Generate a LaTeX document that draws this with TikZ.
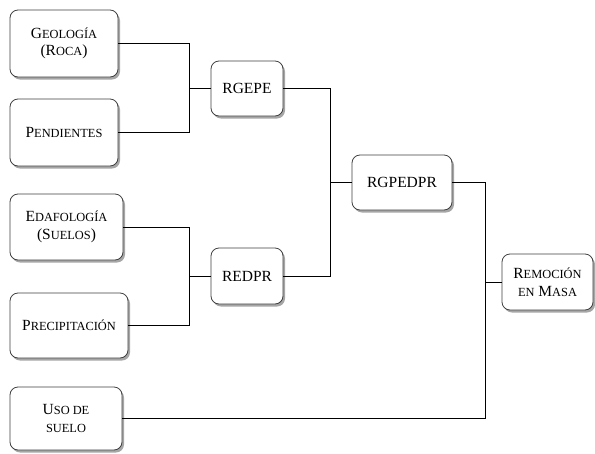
\documentclass[tikz,border=0pt]{standalone}
\usepackage{fontspec}
\setmainfont{Liberation Serif}
\usetikzlibrary{shadows}
\newcommand\sm[1]{{\fontsize{12.4}{17.5}\selectfont #1}}
\begin{document}
\begin{tikzpicture}[x=1pt,y=-1pt,
  box/.style={draw=black!75, line width=0.8pt, rounded corners=8pt, fill=white,
    align=center, inner sep=0pt, font=\fontsize{15.5}{17.5}\selectfont,
    drop shadow={shadow xshift=2pt, shadow yshift=-2.5pt, opacity=0.35, fill=black}},
  wire/.style={draw=black, line width=0.9pt}]
\useasboundingbox[fill=white] (0,0) rectangle (595,453);
\node[box, minimum width=108pt, minimum height=67pt] (geo) at (64,43.5) {G\sm{EOLOGÍA}\\(R\sm{OCA})};
\node[box, minimum width=108pt, minimum height=67pt] (pen) at (64,132.5) {P\sm{ENDIENTES}};
\node[box, minimum width=113pt, minimum height=66pt] (eda) at (66.5,227) {E\sm{DAFOLOGÍA}\\(S\sm{UELOS})};
\node[box, minimum width=118pt, minimum height=65pt] (prec) at (69,325.5) {P\sm{RECIPITACIÓN}};
\node[box, minimum width=112pt, minimum height=63pt] (uso) at (66,418.5) {U\sm{SO DE}\\\sm{SUELO}};
\node[box, minimum width=72pt, minimum height=55pt] (rgepe) at (247,88.5) {RGEPE};
\node[box, minimum width=72pt, minimum height=56pt] (redpr) at (247,276) {REDPR};
\node[box, minimum width=100pt, minimum height=55pt] (rgpedpr) at (402,182.5) {RGPEDPR};
\node[box, minimum width=91pt, minimum height=56pt] (rem) at (547.5,282) {R\sm{EMOCIÓN}\\\sm{EN} M\sm{ASA}};
\coordinate (j1) at (189,88.5);
\coordinate (j2) at (189,276);
\coordinate (j3) at (330,182.5);
\coordinate (j4) at (485,282);
\draw[wire] (geo.east) -| (j1);
\draw[wire] (pen.east) -| (j1);
\draw[wire] (j1) -- (rgepe.west);
\draw[wire] (eda.east) -| (j2);
\draw[wire] (prec.east) -| (j2);
\draw[wire] (j2) -- (redpr.west);
\draw[wire] (rgepe.east) -| (j3);
\draw[wire] (redpr.east) -| (j3);
\draw[wire] (j3) -- (rgpedpr.west);
\draw[wire] (rgpedpr.east) -| (j4);
\draw[wire] (uso.east) -| (j4);
\draw[wire] (j4) -- (rem.west);
\end{tikzpicture}
\end{document}
